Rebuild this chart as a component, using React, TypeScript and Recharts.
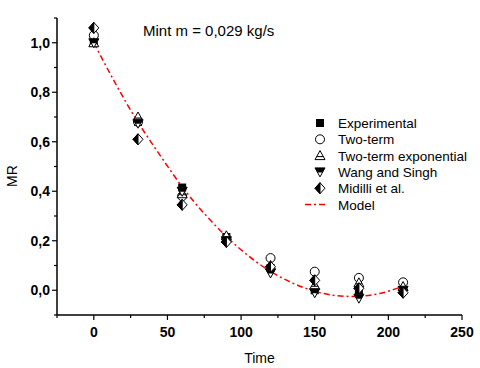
import React from "react";
import { ComposedChart, Scatter, Line, XAxis, YAxis, Legend } from "recharts";

// measurement times (min) and MR values per model
const times = [0, 30, 60, 90, 120, 150, 180, 210];
const experimental = [1.0, 0.68, 0.415, 0.215, 0.09, 0.0, 0.0, 0.0];
const twoTerm = [1.03, 0.68, 0.38, 0.21, 0.13, 0.075, 0.05, 0.032];
const twoTermExp = [1.0, 0.7, 0.39, 0.22, 0.1, 0.02, 0.03, 0.015];
const wangSingh = [1.0, 0.675, 0.4, 0.2, 0.07, -0.01, -0.032, 0.0];
const midilli = [1.06, 0.61, 0.345, 0.195, 0.095, 0.04, 0.008, -0.01];

// fitted model curve
const modelTimes = [0, 15, 30, 45, 60, 75, 90, 105, 120, 135, 150, 165, 180, 195, 210];
const modelValues = [1.0, 0.832, 0.679, 0.545, 0.418, 0.31, 0.217, 0.139, 0.076, 0.029, -0.004, -0.022, -0.024, -0.012, 0.016];

const xTicks = [-25, 0, 25, 50, 75, 100, 125, 150, 175, 200, 225, 250];
const yTicks = [-0.1, 0, 0.1, 0.2, 0.3, 0.4, 0.5, 0.6, 0.7, 0.8, 0.9, 1.0, 1.1];

const legendLabels = ["Experimental", "Two-term", "Two-term exponential", "Wang and Singh", "Midilli et al.", "Model"];

const FONT = '"Liberation Sans", Arial, sans-serif';

const toPoints = (vals: number[]) => vals.map((y, i) => ({ x: times[i], y }));
const modelData = modelValues.map((y, i) => ({ x: modelTimes[i], y }));

type MP = { cx: number; cy: number };

const SquareMark = ({ cx, cy }: MP) => (
  <rect x={cx - 4} y={cy - 4} width={8} height={8} fill="#000" />
);
const CircleMark = ({ cx, cy }: MP) => (
  <circle cx={cx} cy={cy} r={4.5} fill="#fff" stroke="#000" strokeWidth={1} />
);
const UpTriMark = ({ cx, cy }: MP) => (
  <g>
    <polygon points={`${cx},${cy - 5} ${cx - 5},${cy + 4} ${cx + 5},${cy + 4}`} fill="#fff" stroke="#000" strokeWidth={1} />
    <line x1={cx - 3.3} y1={cy + 1} x2={cx + 3.3} y2={cy + 1} stroke="#000" strokeWidth={1} />
  </g>
);
const DownTriMark = ({ cx, cy }: MP) => (
  <g>
    <polygon points={`${cx - 5},${cy - 4} ${cx + 5},${cy - 4} ${cx},${cy + 5}`} fill="#fff" stroke="#000" strokeWidth={1} />
    <polygon points={`${cx - 5},${cy - 4} ${cx + 5},${cy - 4} ${cx + 2.5},${cy + 0.5} ${cx - 2.5},${cy + 0.5}`} fill="#000" />
  </g>
);
const DiamondMark = ({ cx, cy }: MP) => (
  <g>
    <polygon points={`${cx},${cy - 5.5} ${cx + 5},${cy} ${cx},${cy + 5.5} ${cx - 5},${cy}`} fill="#fff" stroke="#000" strokeWidth={1} />
    <polygon points={`${cx},${cy - 5.5} ${cx - 5},${cy} ${cx},${cy + 5.5}`} fill="#000" stroke="#000" strokeWidth={1} />
  </g>
);

const marks = [SquareMark, CircleMark, UpTriMark, DownTriMark, DiamondMark];

const XTick = (props: any) => {
  const { x, y, payload } = props;
  const v = payload.value;
  const major = v % 50 === 0;
  return (
    <g>
      <line x1={x} y1={y} x2={x} y2={y + (major ? 5 : 3)} stroke="#000" strokeWidth={1.2} />
      {major && (
        <text x={x} y={y + 22} textAnchor="middle" fontFamily={FONT} fontWeight="bold" fontSize={14} fill="#000">
          {v}
        </text>
      )}
    </g>
  );
};

const YTick = (props: any) => {
  const { x, y, payload } = props;
  const v = payload.value;
  const k = Math.round(v * 10);
  const major = k % 2 === 0 && k >= 0 && k <= 10;
  return (
    <g>
      <line x1={x - (major ? 5 : 3)} y1={y} x2={x} y2={y} stroke="#000" strokeWidth={1.2} />
      {major && (
        <text x={x - 7} y={y + 5} textAnchor="end" fontFamily={FONT} fontWeight="bold" fontSize={14} fill="#000">
          {v.toFixed(1).replace(".", ",")}
        </text>
      )}
    </g>
  );
};

const renderLegend = () => (
  <svg width={175} height={105}>
    {legendLabels.map((label, i) => {
      const cy = 10 + i * 16.3;
      const Mark = marks[i];
      return (
        <g key={label}>
          {Mark ? (
            <Mark cx={20} cy={cy} />
          ) : (
            <line x1={5} y1={cy} x2={28} y2={cy} stroke="#ff0000" strokeWidth={1.5} strokeDasharray="6 3 2 3" />
          )}
          <text x={38} y={cy + 5} fontFamily={FONT} fontSize={13.5} fill="#000">
            {label}
          </text>
        </g>
      );
    })}
  </svg>
);

const series = [
  { name: "Experimental", vals: experimental },
  { name: "Two-term", vals: twoTerm },
  { name: "Two-term exponential", vals: twoTermExp },
  { name: "Wang and Singh", vals: wangSingh },
  { name: "Midilli et al.", vals: midilli },
];

export default function App() {
  return (
    <div style={{ position: "absolute", left: 0, top: 0, width: 480, height: 368, background: "#fff" }}>
      <ComposedChart width={480} height={368} margin={{ top: 18, right: 18, bottom: 0, left: 0 }}>
        <XAxis
          dataKey="x"
          type="number"
          domain={[-25, 250]}
          ticks={xTicks}
          interval={0}
          height={53}
          tickSize={0}
          tickMargin={0}
          tickLine={false}
          tick={<XTick />}
          axisLine={{ stroke: "#000", strokeWidth: 1.5 }}
          label={{ value: "Time", position: "insideBottom", offset: 5, fontFamily: FONT, fontSize: 14, fill: "#000" }}
        />
        <YAxis
          dataKey="y"
          type="number"
          domain={[-0.1, 1.1]}
          ticks={yTicks}
          interval={0}
          width={57}
          tickSize={0}
          tickMargin={0}
          tickLine={false}
          tick={<YTick />}
          axisLine={{ stroke: "#000", strokeWidth: 1.5 }}
          label={{
            content: () => (
              <text x={17} y={176} transform="rotate(-90, 17, 176)" textAnchor="middle" fontFamily={FONT} fontSize={14} fill="#000">
                MR
              </text>
            ),
          }}
        />
        {series.map((s, i) => {
          const Mark = marks[i];
          return (
            <Scatter
              key={s.name}
              name={s.name}
              data={toPoints(s.vals)}
              dataKey="y"
              isAnimationActive={false}
              shape={(p: any) => <Mark cx={p.cx} cy={p.cy} />}
            />
          );
        })}
        <Line
          name="Model"
          data={modelData}
          dataKey="y"
          type="natural"
          stroke="#ff0000"
          strokeWidth={1.5}
          strokeDasharray="6 3 2 3"
          dot={false}
          activeDot={false}
          isAnimationActive={false}
        />
        <Legend
          layout="vertical"
          align="center"
          verticalAlign="middle"
          wrapperStyle={{ left: 300, top: 113, width: 175 }}
          content={renderLegend}
        />
        <text x={143} y={36} fontFamily={FONT} fontSize={15} fill="#000">
          Mint m = 0,029 kg/s
        </text>
      </ComposedChart>
    </div>
  );
}
